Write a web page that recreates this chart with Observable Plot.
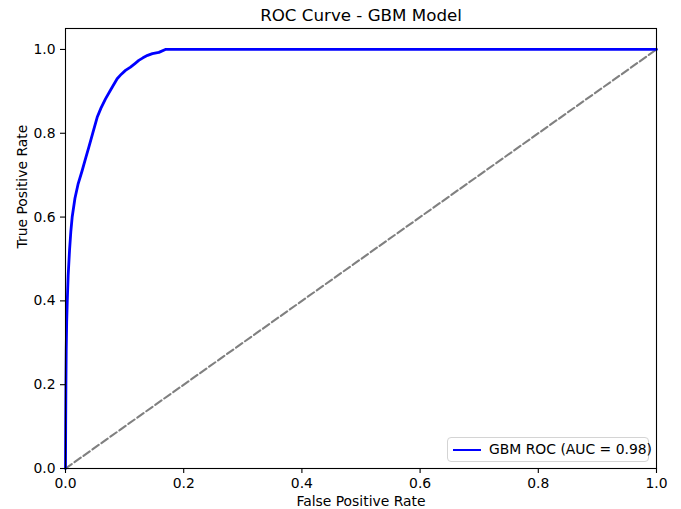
<!DOCTYPE html>
<html><head><meta charset="utf-8">
<script src="https://cdn.jsdelivr.net/npm/d3@7"></script>
<script src="https://cdn.jsdelivr.net/npm/@observablehq/plot@0.6"></script>
<style>
body{margin:0;background:#fff;font-family:"DejaVu Sans",sans-serif;}
#wrap{position:relative;width:681px;height:509px;}
#legend{position:absolute;left:447px;top:437px;width:202px;height:25px;border:1px solid #d4d4d4;border-radius:4px;background:rgba(255,255,255,0.8);box-sizing:border-box;font-size:13.9px;color:#000;}
#legend .sw{position:absolute;left:5px;top:11px;width:28px;height:0;border-top:2.8px solid blue;}
#legend .lb{position:absolute;left:41px;top:3px;white-space:nowrap;}
</style></head>
<body><div id="wrap"></div>
<script>
const title = "ROC Curve - GBM Model";
const xLabel = "False Positive Rate";
const yLabel = "True Positive Rate";
const legendLabel = "GBM ROC (AUC = 0.98)";
const ticks = [0, 0.2, 0.4, 0.6, 0.8, 1.0];

const fpr = [0, 0.0003, 0.0007, 0.0012, 0.002, 0.003, 0.0045, 0.0068, 0.009, 0.0113, 0.016, 0.0215, 0.028, 0.034, 0.0395, 0.046, 0.0536, 0.06, 0.0677, 0.077, 0.0874, 0.0945, 0.1015, 0.11, 0.118, 0.124, 0.131, 0.139, 0.147, 0.158, 0.169, 1.0];
const tpr = [0, 0.1, 0.2, 0.28, 0.35, 0.40, 0.46, 0.52, 0.565, 0.60, 0.645, 0.68, 0.71, 0.74, 0.767, 0.80, 0.838, 0.86, 0.882, 0.905, 0.930, 0.941, 0.950, 0.958, 0.967, 0.974, 0.980, 0.986, 0.990, 0.993, 1.0, 1.0];

const diagX = [0, 1];
const diagY = [0, 1];

const roc = fpr.map((x, i) => ({x, y: tpr[i]}));
const diag = diagX.map((x, i) => ({x, y: diagY[i]}));

const chart = Plot.plot({
  width: 681, height: 509,
  marginLeft: 65, marginRight: 25, marginTop: 28, marginBottom: 41,
  style: {fontFamily: "DejaVu Sans", fontSize: "13.9px", color: "#000", background: "#fff"},
  x: {domain: [0, 1]},
  y: {domain: [0, 1.05]},
  marks: [
    Plot.line(diag, {x: "x", y: "y", stroke: "gray", strokeWidth: 2.1, strokeDasharray: "7.7,3.3"}),
    Plot.line(roc, {x: "x", y: "y", stroke: "blue", strokeWidth: 2.8}),
    Plot.frame({stroke: "#000", strokeWidth: 1.1}),
    Plot.axisX({ticks, tickFormat: d3.format(".1f"), tickSize: 5, tickPadding: 5, label: null, strokeWidth: 1.1}),
    Plot.axisY({ticks, tickFormat: d3.format(".1f"), tickSize: 5, tickPadding: 5, label: null, strokeWidth: 1.1}),
    Plot.text([title], {text: d => d, frameAnchor: "top", lineAnchor: "middle", dy: -13, fontSize: 16.7}),
    Plot.text([xLabel], {text: d => d, frameAnchor: "bottom", lineAnchor: "middle", dy: 33, fontSize: 13.9}),
    Plot.text([yLabel], {text: d => d, frameAnchor: "left", lineAnchor: "middle", dx: -43, rotate: -90, fontSize: 13.9})
  ]
});
const wrap = document.getElementById("wrap");
wrap.appendChild(chart);
const lg = document.createElement("div");
lg.id = "legend";
lg.innerHTML = '<div class="sw"></div><div class="lb"></div>';
lg.querySelector(".lb").textContent = legendLabel;
wrap.appendChild(lg);
</script>
</body></html>
